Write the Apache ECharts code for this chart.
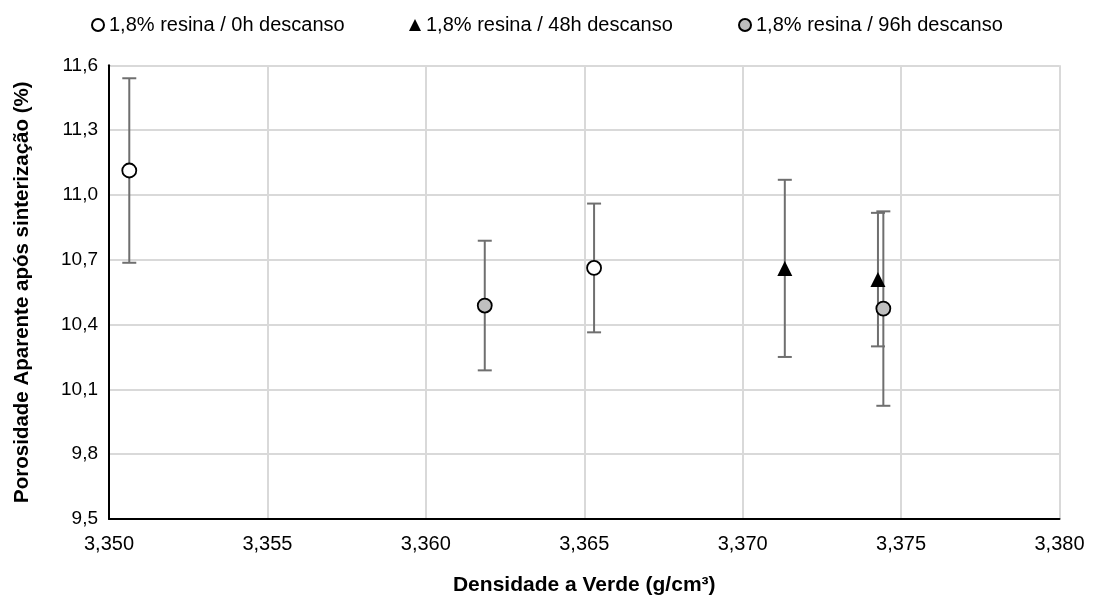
<!DOCTYPE html>
<html>
<head>
<meta charset="utf-8">
<script src="https://cdn.jsdelivr.net/npm/echarts@6/dist/echarts.min.js"></script>
<style>
  html, body { margin: 0; padding: 0; background: #fff; }
  #chart { width: 1096px; height: 601px; }
</style>
</head>
<body>
<div id="chart"></div>
<script>
// Green density (g/cm³) vs. apparent porosity after sintering (%), with ± error
const seriesNames = [
  '1,8% resina / 0h descanso',
  '1,8% resina / 48h descanso',
  '1,8% resina / 96h descanso'
];

const density0h = [3.35064, 3.36531];
const porosity0h = [11.113, 10.662];
const error0h = [0.427, 0.298];

const density48h = [3.37133, 3.37427];
const porosity48h = [10.66, 10.608];
const error48h = [0.41, 0.309];

const density96h = [3.36186, 3.37444];
const porosity96h = [10.488, 10.474];
const error96h = [0.30, 0.45];

const xTicks = { min: 3.350, max: 3.380, step: 0.005 };
const yTicks = { min: 9.5, max: 11.6, step: 0.3 };

const FONT = '"Liberation Sans", "Noto Sans", sans-serif';

function points(xs, ys, es) {
  return xs.map((x, i) => [x, ys[i], es[i]]);
}

// vertical error bar with end caps
function errorBar(params, api) {
  const x = api.value(0), y = api.value(1), e = api.value(2);
  const top = api.coord([x, y + e]);
  const bot = api.coord([x, y - e]);
  const half = 7;
  const style = { stroke: '#6f6f6f', lineWidth: 2 };
  return {
    type: 'group',
    children: [
      { type: 'line', shape: { x1: top[0], y1: top[1], x2: bot[0], y2: bot[1] }, style },
      { type: 'line', shape: { x1: top[0] - half, y1: top[1], x2: top[0] + half, y2: top[1] }, style },
      { type: 'line', shape: { x1: bot[0] - half, y1: bot[1], x2: bot[0] + half, y2: bot[1] }, style }
    ]
  };
}

const groups = [
  { name: seriesNames[0], data: points(density0h, porosity0h, error0h),
    symbol: 'circle', size: 14, color: '#ffffff', border: '#000000' },
  { name: seriesNames[1], data: points(density48h, porosity48h, error48h),
    symbol: 'triangle', size: 15, color: '#000000', border: '#000000' },
  { name: seriesNames[2], data: points(density96h, porosity96h, error96h),
    symbol: 'circle', size: 14, color: '#bfbfbf', border: '#000000' }
];

const series = [];
groups.forEach(g => {
  series.push({
    type: 'custom',
    name: g.name + ' erro',
    renderItem: errorBar,
    data: g.data,
    z: 2,
    silent: true
  });
});
groups.forEach(g => {
  series.push({
    type: 'scatter',
    name: g.name,
    data: g.data,
    symbol: g.symbol,
    symbolSize: g.size,
    itemStyle: { color: g.color, borderColor: g.border, borderWidth: g.symbol === 'triangle' ? 0 : 1.8, opacity: 1 },
    z: 5
  });
});

const legendLefts = [86, 404, 733];
const legends = groups.map((g, i) => ({
  data: [{ name: g.name, icon: g.symbol === 'triangle' ? 'triangle' : 'circle' }],
  left: legendLefts[i],
  top: 10,
  itemWidth: 12,
  itemHeight: 12,
  itemGap: 4,
  textStyle: { fontFamily: FONT, fontSize: 20, color: '#000' },
  selectedMode: false
}));

const chart = echarts.init(document.getElementById('chart'), null, { renderer: 'canvas' });
chart.setOption({
  backgroundColor: '#ffffff',
  animation: false,
  legend: legends,
  grid: { left: 109, right: 36.5, top: 65.3, bottom: 80.7, containLabel: false },
  xAxis: {
    type: 'value',
    min: xTicks.min, max: xTicks.max, interval: xTicks.step,
    name: 'Densidade a Verde (g/cm³)',
    nameLocation: 'middle',
    nameGap: 56,
    nameTextStyle: { fontFamily: FONT, fontSize: 21, fontWeight: 'bold', color: '#000' },
    axisLine: { show: true, onZero: false, lineStyle: { color: '#000', width: 2 } },
    axisTick: { show: false },
    axisLabel: {
      margin: 15,
      fontFamily: FONT, fontSize: 20, color: '#000',
      formatter: v => v.toFixed(3).replace('.', ',')
    },
    splitLine: { show: true, lineStyle: { color: '#d9d9d9', width: 2 } }
  },
  yAxis: {
    type: 'value',
    min: yTicks.min, max: yTicks.max, interval: yTicks.step,
    name: 'Porosidade Aparente após sinterização (%)',
    nameLocation: 'middle',
    nameGap: 76,
    nameTextStyle: { fontFamily: FONT, fontSize: 20.5, fontWeight: 'bold', color: '#000' },
    axisLine: { show: true, onZero: false, lineStyle: { color: '#000', width: 2 } },
    axisTick: { show: false },
    axisLabel: {
      margin: 11,
      fontFamily: FONT, fontSize: 19, color: '#000',
      formatter: v => v.toFixed(1).replace('.', ',')
    },
    splitLine: { show: true, lineStyle: { color: '#d9d9d9', width: 2 } }
  },
  series: series
});
</script>
</body>
</html>
